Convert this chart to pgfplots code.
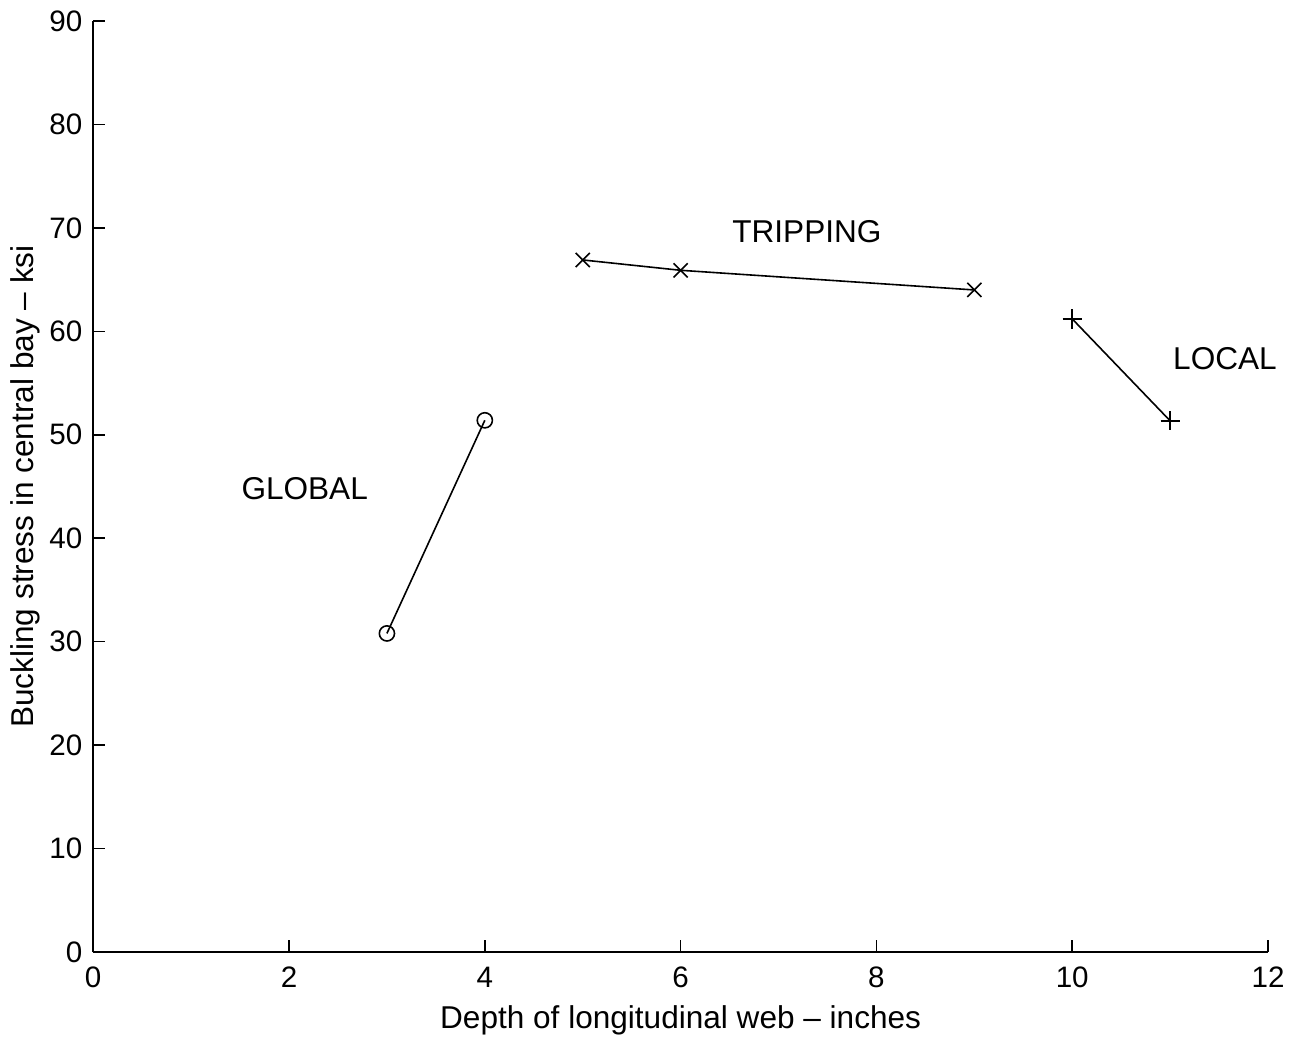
\documentclass[border=0pt]{standalone}
\usepackage{pgfplots}
\pgfplotsset{compat=1.18}
\usepackage{fontspec}
\setmainfont{Liberation Sans}
\begin{document}
\fontsize{15.8}{18}\selectfont
\begin{tikzpicture}
\begin{axis}[
  scale only axis,
  width=588pt, height=466pt,
  xmin=0, xmax=12, ymin=0, ymax=90,
  axis x line*=bottom, axis y line*=left,
  xtick={0,2,...,12}, ytick={0,10,...,90},
  tick align=inside, major tick length=6pt,
  tick style={black, line width=0.8pt},
  axis line style={line width=0.8pt},
  /pgf/number format/assume math mode=true,
  ticklabel style={font=\fontsize{14.8}{17}\selectfont},
  xticklabel style={yshift=-2pt},
  label style={font=\fontsize{15.8}{18}\selectfont},
  xlabel={Depth of longitudinal web -- inches},
  ylabel={Buckling stress in central bay -- ksi},
  xlabel style={yshift=2pt},
  ylabel style={yshift=-6pt},
  clip=false,
]
\addplot[black, line width=0.8pt, mark=o, mark size=3.8pt, mark options={line width=0.8pt}] coordinates {(3,30.8) (4,51.4)};
\addplot[black, line width=0.8pt, mark=x, mark size=5pt, mark options={line width=0.8pt}] coordinates {(5,66.9) (6,65.9) (9,64.0)};
\addplot[black, line width=0.8pt, mark=+, mark size=4.8pt, mark options={line width=0.8pt}] coordinates {(10,61.2) (11,51.35)};
\node[font=\fontsize{15.8}{18}\selectfont] at (axis cs:7.29,69.6) {TRIPPING};
\node[font=\fontsize{15.8}{18}\selectfont] at (axis cs:2.16,44.8) {GLOBAL};
\node[font=\fontsize{15.8}{18}\selectfont] at (axis cs:11.56,57.4) {LOCAL};
\end{axis}
\end{tikzpicture}
\end{document}
